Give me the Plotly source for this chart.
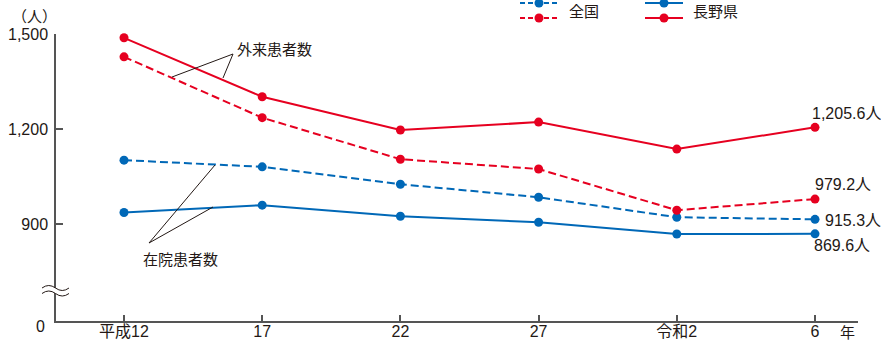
import plotly.graph_objects as go

# ---- data ----
categories = ["平成12", "17", "22", "27", "令和2", "6"]
nagano_outpatient = [1488, 1302, 1197, 1222, 1137, 1205.6]
national_outpatient = [1428, 1236, 1105, 1074, 944, 979.2]
national_inpatient = [1102, 1081, 1026, 985, 922, 915.3]
nagano_inpatient = [937, 960, 925, 906, 869, 869.6]
y_tick_vals = [900, 1200, 1500]
y_tick_text = ["900", "1,200", "1,500"]
end_labels = ["1,205.6人", "979.2人", "915.3人", "869.6人"]

RED = "#E60020"
BLUE = "#0068B7"
INK = "#231815"
AXIS = "#555555"
FONT = "Liberation Sans, Noto Sans CJK JP, sans-serif"

W, H = 881, 340
ML, MR, MT, MB = 56, 23, 34, 19
PW, PH = W - ML - MR, H - MT - MB
Y_ZERO = 594.6  # axis value where the broken axis shows "0"


def px(x):
    return (x - ML) / PW


def py(y):
    return (H - MB - y) / PH


xs = list(range(len(categories)))
fig = go.Figure()


def add(vals, color, dash):
    fig.add_trace(go.Scatter(
        x=xs, y=vals, mode="lines+markers",
        line=dict(color=color, width=2, dash=dash),
        marker=dict(color=color, size=9),
        cliponaxis=False, showlegend=False, hoverinfo="skip"))


add(nagano_inpatient, BLUE, "solid")
add(national_inpatient, BLUE, "8px,4px")
add(national_outpatient, RED, "8px,4px")
add(nagano_outpatient, RED, "solid")

shapes = []
annotations = []

# end value labels
series_end = [nagano_outpatient[-1], national_outpatient[-1],
              national_inpatient[-1], nagano_inpatient[-1]]
offsets = [(-5, 14), (-2, 15), (8, -1), (-3, -12)]
for txt, v, (dx, dy) in zip(end_labels, series_end, offsets):
    annotations.append(dict(x=xs[-1], y=v, text=txt, showarrow=False,
                            xanchor="left", yanchor="middle", xshift=dx, yshift=dy,
                            font=dict(size=16, color=INK)))


def seg(x0, y0, x1, y1, color=INK, width=1, dash="solid"):
    shapes.append(dict(type="line", xref="paper", yref="paper",
                       x0=px(x0), y0=py(y0), x1=px(x1), y1=py(y1),
                       line=dict(color=color, width=width, dash=dash)))


# callout lines
seg(233, 54, 172, 77)
seg(233, 54, 223, 78)
seg(149, 243, 215, 165)
seg(149, 243, 213, 207)


def text(x, y, s, anchor="left", size=15):
    annotations.append(dict(xref="paper", yref="paper", x=px(x), y=py(y), text=s,
                            showarrow=False, xanchor=anchor, yanchor="middle",
                            font=dict(size=size, color=INK)))


text(235, 49, "外来患者数")
text(141, 259, "在院患者数")
text(34, 16, "（人）", anchor="center")
text(47, 326, "0", anchor="right", size=16)
text(847, 332, "年", anchor="center")


# legend
def legend_item(x0, x1, y, color, dash):
    seg(x0, y, x1, y, color=color, width=2, dash=dash)
    cx = (x0 + x1) / 2
    shapes.append(dict(type="circle", xref="paper", yref="paper",
                       xsizemode="pixel", ysizemode="pixel",
                       xanchor=px(cx), yanchor=py(y),
                       x0=-4.5, x1=4.5, y0=-4.5, y1=4.5,
                       fillcolor=color, line=dict(width=0)))


legend_item(520, 558, 3, BLUE, "5px,3px")
legend_item(520, 558, 18, RED, "5px,3px")
legend_item(645, 683, 3, BLUE, "solid")
legend_item(645, 683, 18, RED, "solid")
text(567, 12, "全国")
text(691, 12, "長野県")


# axis break symbol
def P(x, y):
    return f"{px(x)},{py(y)}"


y1, y2 = 288, 293.5
fill_path = (f"M {P(42, y1)} Q {P(48.75, y1 - 5)} {P(55.5, y1)} Q {P(62.25, y1 + 5)} {P(69, y1)} "
             f"L {P(69, y2)} Q {P(62.25, y2 + 5)} {P(55.5, y2)} Q {P(48.75, y2 - 5)} {P(42, y2)} Z")
shapes.append(dict(type="path", xref="paper", yref="paper", path=fill_path,
                   fillcolor="white", line=dict(width=0), layer="above"))
for yy in (y1, y2):
    p = f"M {P(42, yy)} Q {P(48.75, yy - 5)} {P(55.5, yy)} Q {P(62.25, yy + 5)} {P(69, yy)}"
    shapes.append(dict(type="path", xref="paper", yref="paper", path=p,
                       line=dict(color=INK, width=1), layer="above"))

fig.update_layout(
    width=W, height=H,
    margin=dict(l=ML, r=MR, t=MT, b=MB, pad=0, autoexpand=False),
    paper_bgcolor="white", plot_bgcolor="white",
    font=dict(family=FONT, size=15, color=INK),
    shapes=shapes, annotations=annotations,
    xaxis=dict(range=[(ML - 124) / 138.2, (W - MR - 124) / 138.2],
               tickvals=xs, ticktext=categories,
               showgrid=False, zeroline=False, automargin=False,
               showline=True, linecolor=AXIS, linewidth=1.5,
               ticks="inside", ticklen=6, tickcolor=AXIS, tickwidth=1.5,
               ticklabelstandoff=-5,
               tickfont=dict(size=16, color=INK)),
    yaxis=dict(range=[Y_ZERO, 1500],
               tickvals=y_tick_vals, ticktext=y_tick_text,
               showgrid=False, zeroline=False, automargin=False,
               showline=True, linecolor=AXIS, linewidth=1.5,
               ticks="inside", ticklen=7, tickcolor=AXIS, tickwidth=1.5,
               ticklabelstandoff=3,
               tickfont=dict(size=16, color=INK)),
)

fig.write_html("out.html", config={"displayModeBar": False},
               post_script="document.body.style.margin='0';document.body.style.overflow='hidden';")
